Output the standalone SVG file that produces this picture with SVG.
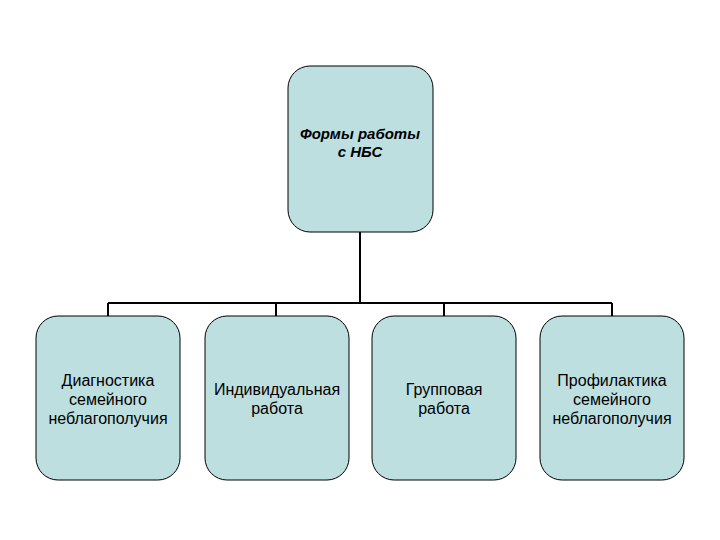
<svg xmlns="http://www.w3.org/2000/svg" width="720" height="540" viewBox="0 0 720 540">
<style>
.box{fill:#bddfe0;stroke:#000;stroke-width:1}
.t{font-family:"Liberation Sans",Arial,sans-serif;font-size:16px;text-anchor:middle;fill:#000}
.b{font-weight:bold;font-style:italic;font-size:15px}
.c{stroke:#000;stroke-width:2;fill:none}
</style>
<rect width="720" height="540" fill="#fff"/>
<g id="connectors">
<path class="c" d="M360 232V303M108 303H612M108 303V316M276 303V316M444 303V316M612 303V316"/>
</g>
<g id="root"><rect class="box" x="288" y="66" width="145" height="166" rx="22"/>
<text class="t b" x="360" y="139">Формы работы</text><text class="t b" x="360" y="157">с НБС</text></g>
<g id="n1"><rect class="box" x="36" y="316" width="144" height="164" rx="22"/>
<text class="t" x="108" y="386">Диагностика</text><text class="t" x="108" y="405">семейного</text><text class="t" x="108" y="424">неблагополучия</text></g>
<g id="n2"><rect class="box" x="205" y="316" width="144" height="164" rx="22"/>
<text class="t" x="277" y="395">Индивидуальная</text><text class="t" x="277" y="414">работа</text></g>
<g id="n3"><rect class="box" x="372" y="316" width="144" height="164" rx="22"/>
<text class="t" x="444" y="395">Групповая</text><text class="t" x="444" y="414">работа</text></g>
<g id="n4"><rect class="box" x="540" y="316" width="144" height="164" rx="22"/>
<text class="t" x="612" y="386">Профилактика</text><text class="t" x="612" y="405">семейного</text><text class="t" x="612" y="424">неблагополучия</text></g>
</svg>
